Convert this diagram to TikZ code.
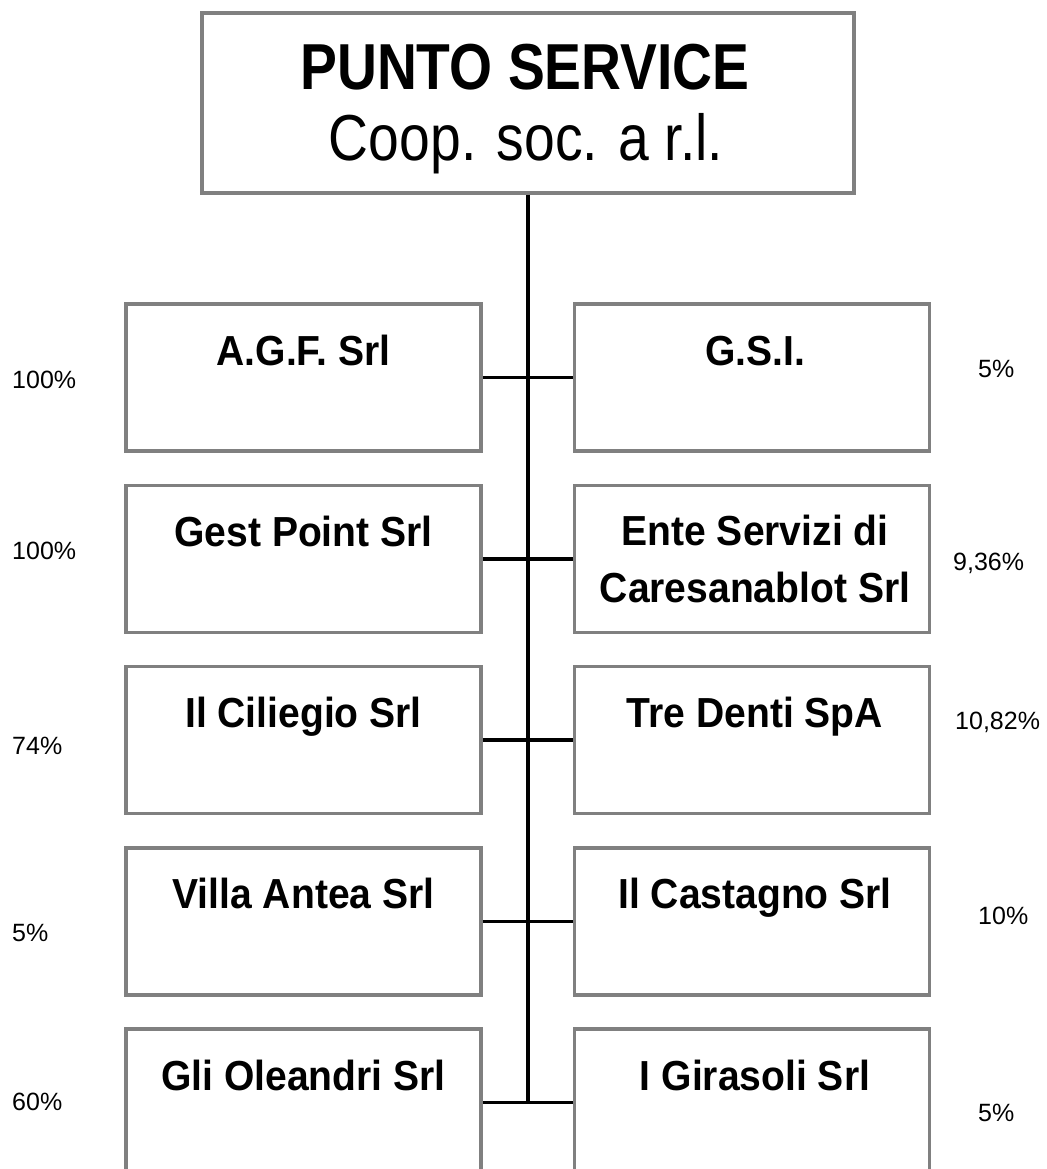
\documentclass[tikz,border=0pt]{standalone}
\usepackage{fontspec}
\setmainfont{Liberation Sans}
\newfontfamily\titlefont[FakeStretch=0.85]{Liberation Sans}
\newfontfamily\boxfont[FakeStretch=0.93]{Liberation Sans}
\definecolor{boxgray}{RGB}{128,128,128}
\tikzset{
  orgbox/.style={draw=boxgray, line width=3.5pt, minimum width=355pt, minimum height=147pt, inner sep=0pt, fill=white},
  topbox/.style={draw=boxgray, line width=3.5pt, minimum width=652pt, minimum height=180pt, inner sep=0pt, fill=white},
  conn/.style={line width=3.5pt, black},
  lbl/.style={font=\boxfont\bfseries\fontsize{42}{57}\selectfont, anchor=base, align=center, inner sep=0pt},
  pct/.style={font=\fontsize{25}{30}\selectfont, anchor=base west, inner sep=0pt}
}
\begin{document}
\begin{tikzpicture}[x=1pt,y=-1pt]
\useasboundingbox (0,0) rectangle (1046,1169);
\clip (0,0) rectangle (1046,1169);
\fill[white] (0,0) rectangle (1046,1169);

% top box
\node[topbox] (top) at (528,103) {};
\node[font=\titlefont\bfseries\fontsize{65}{70}\selectfont, anchor=base, inner sep=0pt] (title1) at (525,90) {PUNTO SERVICE};
\node[font=\titlefont\fontsize{65}{70}\selectfont, anchor=base, inner sep=0pt] (title2) at (526,161) {Coop. soc. a r.l.};

% boxes
\foreach \i/\ln/\rn/\off in {0/A.G.F. Srl/G.S.I./61,
                        1/Gest Point Srl/{Ente Servizi di\\Caresanablot Srl}/117,
                        2/Il Ciliegio Srl/Tre Denti SpA/61,
                        3/Villa Antea Srl/Il Castagno Srl/61,
                        4/Gli Oleandri Srl/I Girasoli Srl/61}{
  \pgfmathsetmacro{\t}{304+181.25*\i}
  \node[orgbox] (L\i) at (303.5,\t+73.5) {};
  \node[orgbox] (R\i) at (752,\t+73.5) {};
  \node[lbl] (LT\i) at (303.5,\t+61) {\ln};
  \node[lbl] (RT\i) at (755,\t+\off) {\rn};
  \draw[conn] (L\i.east) -- (R\i.west);
}

\coordinate (vend) at (528,1102.5);
\draw[line width=4pt] (top.south) -- (vend);

% percentages left
\node[pct] (p1) at (12,388) {100\%};
\node[pct] (p2) at (12,559) {100\%};
\node[pct] (p3) at (12,754) {74\%};
\node[pct] (p4) at (12,941) {5\%};
\node[pct] (p5) at (12,1110) {60\%};
% percentages right
\node[pct] (q1) at (978,377) {5\%};
\node[pct] (q2) at (953,570) {9,36\%};
\node[pct] (q3) at (955,729) {10,82\%};
\node[pct] (q4) at (978,924) {10\%};
\node[pct] (q5) at (978,1121) {5\%};
\end{tikzpicture}
\end{document}
